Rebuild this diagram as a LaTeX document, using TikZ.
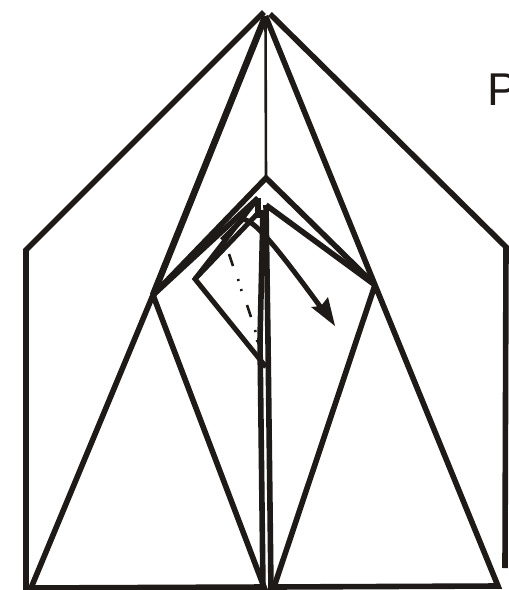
\documentclass[tikz,border=0pt]{standalone}
\usepackage{fontspec}
\setmainfont{Liberation Sans}
\usetikzlibrary{arrows.meta}
\definecolor{ink}{RGB}{30,26,24}
\tikzset{
 edge/.style={draw=ink,line width=5.6pt,line join=miter,line cap=butt},
 thinedge/.style={draw=ink,line width=2.6pt},
 midedge/.style={draw=ink,line width=5pt},
 dashbit/.style={draw=ink,line width=2.6pt},
 label/.style={text=ink,font=\fontsize{46}{46}\selectfont,inner sep=0pt,anchor=base west}
}
\begin{document}
\begin{tikzpicture}[x=1pt,y=-1pt]
\useasboundingbox (0,0) rectangle (509,590);
\fill[white] (0,0) rectangle (509,590);
\coordinate (apexL) at (264,12);
\coordinate (apexR) at (270,14);
\coordinate (apexM) at (265.5,16);
\coordinate (outerL) at (26,250);
\coordinate (outerLb) at (26,590);
\coordinate (outerR) at (506,247);
\coordinate (outerRb) at (505,568);
\coordinate (kneeL) at (153,295);
\coordinate (kneeR) at (375,285);
\coordinate (baseLa) at (31,588);
\coordinate (baseLb) at (264,587);
\coordinate (baseRa) at (274,587);
\coordinate (baseRb) at (498,586);
\coordinate (peak) at (266,178);
\coordinate (inner) at (266,205);
\coordinate (innerL) at (258,198);
\coordinate (kite) at (195,279);
\coordinate (kiteb) at (266,367);
\coordinate (arrS) at (222,240);
\coordinate (arrT) at (335,326);
\draw[edge] (apexL) -- (outerL) -- (outerLb);
\draw[edge] (apexR) -- (outerR) -- (outerRb);
\draw[edge,line width=6.6pt] (apexM) -- (kneeL);
\draw[edge] (kneeL) -- (baseLa) -- (baseLb) -- cycle;
\draw[edge] (apexM) -- (kneeR) -- (baseRb) -- (baseRa) -- (kneeR);
\draw[thinedge] (apexM) -- (peak);
\draw[edge] (kneeL) -- (peak) -- (kneeR);
\draw[edge] (kneeL) -- (innerL);
\draw[edge] (kneeR) -- (inner);
\draw[edge] (inner) -- (268,340) -- (271,590);
\draw[edge] (innerL) -- (258,218);
\draw[edge] (263,210) -- (260,340) -- (263,590);
\draw[midedge] (innerL) -- (kite) -- (kiteb);
\draw[midedge] (261,210) -- (kite);
\draw[edge,line width=5pt] (arrS) -- (243,219) .. controls (255,222) and (270,238) .. (322,309);
\fill[ink] (arrT) -- (311,307) -- (321,306) -- (328,297) -- cycle;
\draw[dashbit] (229,254) -- (233,266);
\draw[dashbit] (238,279) -- (238.6,281);
\draw[dashbit] (241,289) -- (241.6,291);
\draw[dashbit] (247,305) -- (251,317);
\draw[dashbit] (255,330) -- (255.6,332);
\draw[dashbit] (257,340) -- (257.4,342);
\node[label] (plabel) at (487,105) {P};
\end{tikzpicture}
\end{document}
